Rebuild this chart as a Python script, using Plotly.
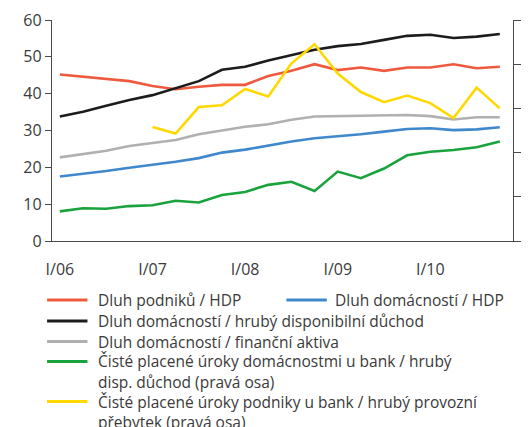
import plotly.graph_objects as go

# Quarterly observations, I/06 .. IV/10
quarters = [f"{q}/{y:02d}" for y in range(6, 11) for q in ("I", "II", "III", "IV")]
year_ticks = ["I/06", "I/07", "I/08", "I/09", "I/10"]

# Left axis (%)
corp_debt_gdp = [45.2, 44.6, 43.9, 43.4, 42.1, 41.2, 41.9, 42.4, 42.4, 44.8,
                 46.2, 48.0, 46.4, 47.1, 46.2, 47.1, 47.1, 48.0, 46.9, 47.3]
hh_debt_gdp = [17.5, 18.2, 19.0, 19.9, 20.6, 21.5, 22.5, 24.0, 24.8, 26.0,
               27.0, 27.9, 28.4, 29.0, 29.7, 30.4, 30.6, 30.1, 30.3, 30.9]
hh_debt_income = [33.8, 35.1, 36.7, 38.3, 39.6, 41.5, 43.4, 46.5, 47.3, 49.0,
                  50.4, 51.9, 52.9, 53.5, 54.6, 55.7, 56.0, 55.1, 55.5, 56.2]
hh_debt_assets = [22.7, 23.6, 24.5, 25.8, 26.5, 27.4, 29.0, 30.1, 31.0, 31.7,
                  32.9, 33.8, 33.9, 34.0, 34.2, 34.2, 33.9, 33.0, 33.6, 33.6]

# Right axis (%)
hh_interest_income = [0.67, 0.74, 0.73, 0.79, 0.81, 0.91, 0.87, 1.04, 1.11, 1.27,
                      1.34, 1.13, 1.57, 1.42, 1.64, 1.94, 2.02, 2.06, 2.12, 2.25]
corp_quarters = quarters[4:]
corp_interest_surplus = [2.58, 2.43, 3.03, 3.07, 3.44, 3.27, 4.02, 4.45,
                         3.79, 3.37, 3.14, 3.29, 3.12, 2.78, 3.47, 3.00]

names = [
    "Dluh podniků / HDP",
    "Dluh domácností / HDP",
    "Dluh domácností / hrubý disponibilní důchod",
    "Dluh domácností / finanční aktiva",
    "Čisté placené úroky domácnostmi u bank / hrubý<br>disp. důchod (pravá osa)",
    "Čisté placené úroky podniky u bank / hrubý provozní<br>přebytek (pravá osa)",
]
colors = ["#ee5a3e", "#3f88cc", "#1c1c1c", "#b0b0b0", "#1aa33c", "#ffd800"]

TXT = "#3a3a3a"
AX = "#4a4a4a"
FONT = "Open Sans"
W, H = 528, 427
L, R, T, B = 52, 8, 20, 186

fig = go.Figure()
series = [
    (quarters, corp_debt_gdp, "y"),
    (quarters, hh_debt_gdp, "y"),
    (quarters, hh_debt_income, "y"),
    (quarters, hh_debt_assets, "y"),
    (quarters, hh_interest_income, "y2"),
    (corp_quarters, corp_interest_surplus, "y2"),
]
for (xs, ys, ax), name, col in zip(series, names, colors):
    fig.add_trace(go.Scatter(x=xs, y=ys, name=name, mode="lines", yaxis=ax,
                             line=dict(color=col, width=2.6), showlegend=False))


def px_x(p):
    return (p - L) / (W - L - R)


def px_y(p):
    return (H - B - p) / (H - T - B)


# Legend drawn below the plot: (series index, line x, text x, row centres)
legend_rows = [
    (0, 47, 97, [300]),
    (1, 290, 337, [300]),
    (2, 47, 97, [321]),
    (3, 47, 97, [341.5]),
    (4, 47, 97, [361.5, 381.8]),
    (5, 47, 97, [401.5, 421.8]),
]
shapes = []
annotations = []
for idx, lx, tx, rows in legend_rows:
    shapes.append(dict(type="line", xref="paper", yref="paper",
                       x0=px_x(lx), x1=px_x(lx + 41), y0=px_y(rows[0]), y1=px_y(rows[0]),
                       line=dict(color=colors[idx], width=3)))
    for line_text, ry in zip(names[idx].split("<br>"), rows):
        annotations.append(dict(text=line_text, xref="paper", yref="paper",
                                x=px_x(tx), y=px_y(ry), xanchor="left", yanchor="middle",
                                showarrow=False, font=dict(family=FONT, size=15.5, color=TXT)))

fig.update_layout(
    width=W, height=H,
    margin=dict(l=L, r=R, t=T, b=B),
    plot_bgcolor="white", paper_bgcolor="white",
    font=dict(family=FONT, size=16, color=TXT),
    xaxis=dict(type="category", categoryorder="array", categoryarray=quarters,
               range=[-0.34, 19.57], tickmode="array", tickvals=year_ticks, ticktext=year_ticks,
               ticks="", showgrid=False, showline=True, linecolor=AX, linewidth=1.4,
               ticklabelstandoff=14, tickfont=dict(size=16, color=TXT), zeroline=False),
    yaxis=dict(range=[0, 60], dtick=10, ticks="outside", ticklen=6, tickwidth=1.4,
               tickcolor=AX, showline=True, linecolor=AX, linewidth=1.4, showgrid=False,
               zeroline=False, tickfont=dict(size=16, color=TXT)),
    yaxis2=dict(range=[0, 5], dtick=1, overlaying="y", side="right", ticks="outside",
                ticklen=7, tickwidth=1.4, tickcolor=AX, showline=True, linecolor=AX,
                linewidth=1.4, showgrid=False, zeroline=False, showticklabels=False),
    shapes=shapes,
    annotations=annotations,
)

fig.write_html("out.html")
